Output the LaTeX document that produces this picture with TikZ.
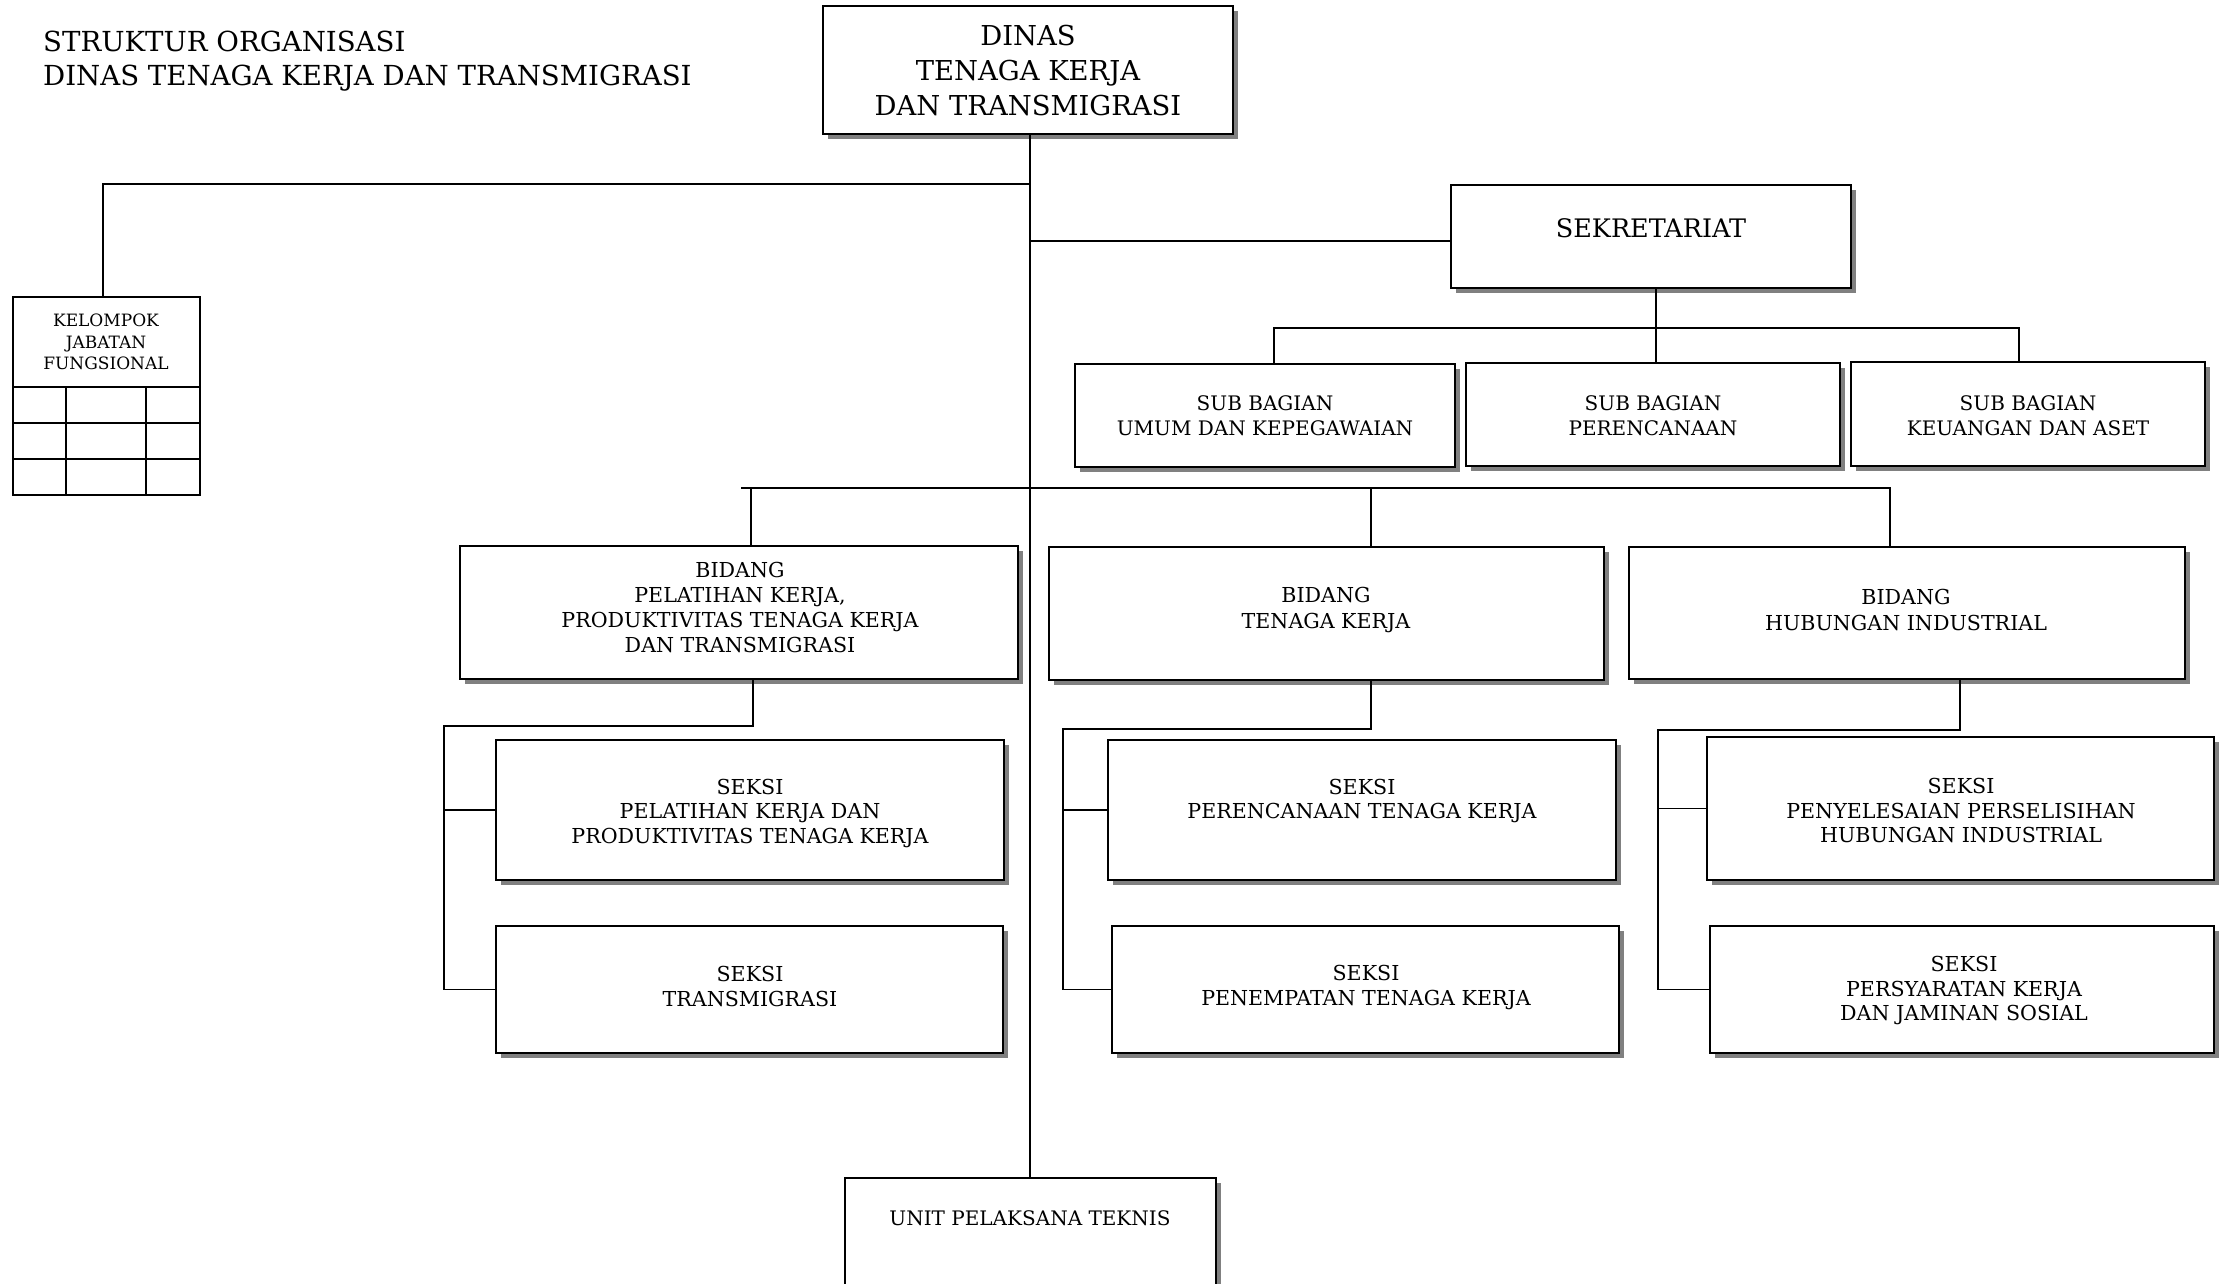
\documentclass[tikz,border=0pt]{standalone}
\usepackage{fontspec}
\setmainfont{DejaVu Serif}
\usetikzlibrary{fit,shadows}
\newcommand{\obox}[5]{\node[obx, fit={(#2,#3) (#4,#5)}] (#1) {};}
\newcommand{\fsz}[2]{\fontsize{#1}{#2}\selectfont}
\begin{document}
\begin{tikzpicture}[x=1pt,y=-1pt,
  obx/.style={draw, line width=2.2pt, fill=white, inner sep=0pt,
    drop shadow={shadow xshift=5pt, shadow yshift=-5pt, fill=black!50, opacity=1}},
  plainbox/.style={draw, line width=2.2pt, fill=white, inner sep=0pt},
  ln/.style={line width=1.7pt},
  grid/.style={line width=2pt},
  txt/.style={align=center, inner sep=0pt},
  seks/.style={txt, font=\fsz{20.6}{24.5}},
]
\useasboundingbox[fill=white] (0,0) rectangle (2220,1283);

% title
\node[anchor=base west, inner sep=0pt, font=\fsz{27.6}{30}] (title1) at (43,51) {STRUKTUR ORGANISASI};
\node[anchor=base west, inner sep=0pt, font=\fsz{27.6}{30}] (title2) at (43,85) {DINAS TENAGA KERJA DAN TRANSMIGRASI};

% boxes
\obox{dinas}{823}{6}{1233}{134}
\node[plainbox, fit={(13,297) (200,495)}] (kel) {};
\obox{sek}{1451}{185}{1851}{288}
\obox{sb1}{1075}{364}{1455}{467}
\obox{sb2}{1466}{363}{1840}{466}
\obox{sb3}{1851}{362}{2205}{466}
\obox{b1}{460}{546}{1018}{679}
\obox{b2}{1049}{547}{1604}{680}
\obox{b3}{1629}{547}{2185}{679}
\obox{s1}{496}{740}{1004}{880}
\obox{s2}{496}{926}{1003}{1053}
\obox{s3}{1108}{740}{1616}{880}
\obox{s4}{1112}{926}{1619}{1053}
\obox{s5}{1707}{737}{2214}{880}
\obox{s6}{1710}{926}{2214}{1053}
\obox{upt}{845}{1178}{1216}{1300}

% kelompok grid
\draw[grid] (13,387) -- (200,387);
\draw[grid] (13,423) -- (200,423);
\draw[grid] (13,459) -- (200,459);
\draw[grid] (66,387) -- (66,495);
\draw[grid] (146,387) -- (146,495);

% texts
\node[txt, font=\fsz{27.4}{35}] (dinast) at (1028,71) {DINAS\\TENAGA KERJA\\DAN TRANSMIGRASI};
\node[txt, font=\fsz{25.5}{28}] (sekt) at (1651,228) {SEKRETARIAT};
\node[txt, font=\fsz{20}{25}] (sb1t) at (1265,415.5) {SUB BAGIAN\\UMUM DAN KEPEGAWAIAN};
\node[txt, font=\fsz{20}{25}] (sb2t) at (1653,415.5) {SUB BAGIAN\\PERENCANAAN};
\node[txt, font=\fsz{20}{25}] (sb3t) at (2028,415.5) {SUB BAGIAN\\KEUANGAN DAN ASET};
\node[txt, font=\fsz{17}{21.5}] (kelt) at (106,342) {KELOMPOK\\JABATAN\\FUNGSIONAL};
\node[seks, font=\fsz{20.6}{25}] (b1t) at (740,607.5) {BIDANG\\PELATIHAN KERJA,\\PRODUKTIVITAS TENAGA KERJA\\DAN TRANSMIGRASI};
\node[seks, font=\fsz{20.6}{26}] (b2t) at (1326,609.5) {BIDANG\\TENAGA KERJA};
\node[seks, font=\fsz{20.6}{26}] (b3t) at (1906,609.5) {BIDANG\\HUBUNGAN INDUSTRIAL};
\node[seks] (s1t) at (750,813) {SEKSI\\PELATIHAN KERJA DAN\\PRODUKTIVITAS TENAGA KERJA};
\node[seks] (s2t) at (750,986.5) {SEKSI\\TRANSMIGRASI};
\node[seks] (s3t) at (1362,801) {SEKSI\\PERENCANAAN TENAGA KERJA};
\node[seks] (s4t) at (1366,987.5) {SEKSI\\PENEMPATAN TENAGA KERJA};
\node[seks] (s5t) at (1961,810.5) {SEKSI\\PENYELESAIAN PERSELISIHAN\\HUBUNGAN INDUSTRIAL};
\node[seks] (s6t) at (1964,990.5) {SEKSI\\PERSYARATAN KERJA\\DAN JAMINAN SOSIAL};
\node[txt, font=\fsz{20}{24}] (uptt) at (1030,1218) {UNIT PELAKSANA TEKNIS};

% junction coordinates
\coordinate (jt) at (1030,134);
\coordinate (jk) at (1030,184);
\coordinate (jkl) at (103,184);
\coordinate (js) at (1030,241);
\coordinate (jsek) at (1656,288);
\coordinate (d1) at (1274,328);
\coordinate (d3) at (2019,328);
\coordinate (bL) at (741,488);
\coordinate (bd1) at (751,488);
\coordinate (bd2) at (1371,488);
\coordinate (bR) at (1890,488);
\coordinate (k1) at (753,726);
\coordinate (k1L) at (444,726);
\coordinate (k2) at (1371,729);
\coordinate (k2L) at (1063,729);
\coordinate (k3) at (1960,730);
\coordinate (k3L) at (1658,730);

% connectors
\draw[ln] (jt) -- (jt |- upt.north);
\draw[ln] (jk) -- (jkl) -- (jkl |- kel.north);
\draw[ln] (js) -- (js -| sek.west);
\draw[ln] (jsek) -- (jsek |- sb2.north);
\draw[ln] (d1 |- sb1.north) -- (d1) -- (d3) -- (d3 |- sb3.north);
\draw[ln] (bL) -- (bR) -- (bR |- b3.north);
\draw[ln] (bd1) -- (bd1 |- b1.north);
\draw[ln] (bd2) -- (bd2 |- b2.north);
\draw[ln] (k1 |- b1.south) -- (k1) -- (k1L) -- (k1L |- s2.west) -- (s2.west);
\draw[ln] (k1L |- s1.west) -- (s1.west);
\draw[ln] (k2 |- b2.south) -- (k2) -- (k2L) -- (k2L |- s4.west) -- (s4.west);
\draw[ln] (k2L |- s3.west) -- (s3.west);
\draw[ln] (k3 |- b3.south) -- (k3) -- (k3L) -- (k3L |- s6.west) -- (s6.west);
\draw[ln] (k3L |- s5.west) -- (s5.west);
\end{tikzpicture}
\end{document}
